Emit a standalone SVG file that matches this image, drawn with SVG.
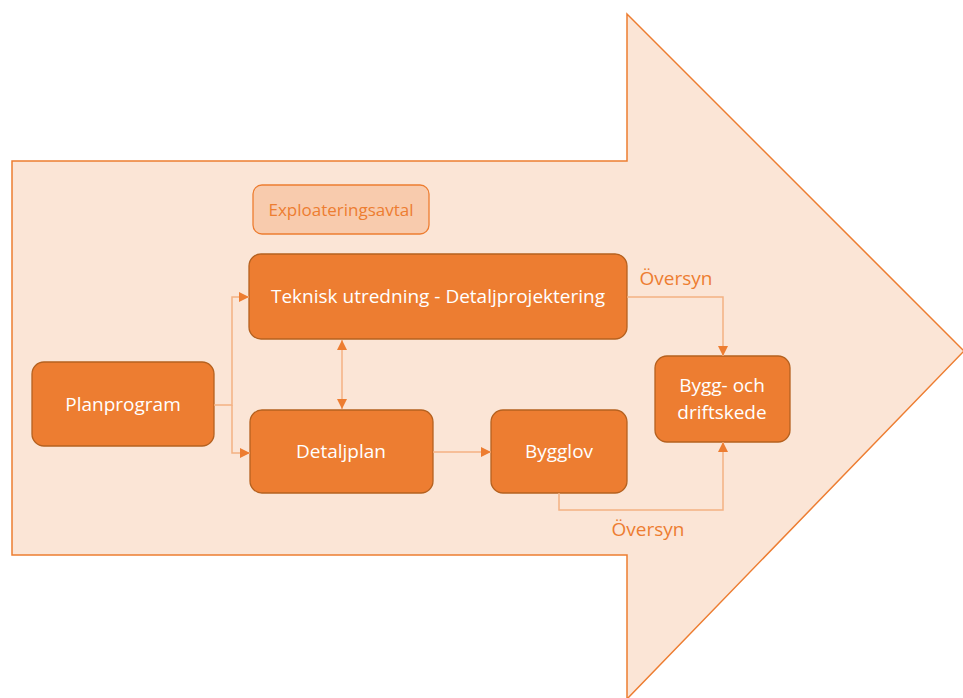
<svg xmlns="http://www.w3.org/2000/svg" width="963" height="698" viewBox="0 0 963 698">
<style>
.bg{fill:#fbe5d6;stroke:#ed7d31;stroke-width:1.5}
.box{fill:#ed7d31;stroke:#b5611f;stroke-width:1.3}
.lbl{font-family:"Open Sans","Liberation Sans",sans-serif;font-size:19px;fill:#ffffff;text-anchor:middle}
.olbl{font-family:"Open Sans","Liberation Sans",sans-serif;font-size:19px;fill:#ed7d31;text-anchor:middle}
.con{fill:none;stroke:#f4b183;stroke-width:1.5}
</style>
<defs>
<marker id="ah" viewBox="0 0 10 10" refX="10" refY="5" markerWidth="10" markerHeight="10" markerUnits="userSpaceOnUse" orient="auto-start-reverse">
<path d="M0,0 L10,5 L0,10 Z" fill="#ed7d31"/>
</marker>
</defs>
<polygon class="bg" points="12,161 627,161 627,14 964,351 627,699 627,555 12,555"/>
<g id="exploateringsavtal">
<rect x="253" y="185" width="176" height="49" rx="9" fill="#f8cbad" stroke="#ed7d31" stroke-width="1.3"/>
<text class="olbl" x="341" y="216" style="font-size:17px">Exploateringsavtal</text>
</g>
<g id="teknisk">
<rect class="box" x="249" y="254" width="378" height="85" rx="12"/>
<text class="lbl" x="438" y="303">Teknisk utredning - Detaljprojektering</text>
</g>
<g id="planprogram">
<rect class="box" x="32" y="362" width="182" height="84" rx="12"/>
<text class="lbl" x="123" y="411">Planprogram</text>
</g>
<g id="detaljplan">
<rect class="box" x="250" y="410" width="183" height="83" rx="12"/>
<text class="lbl" x="341" y="458">Detaljplan</text>
</g>
<g id="bygglov">
<rect class="box" x="491" y="410" width="136" height="83" rx="12"/>
<text class="lbl" x="559" y="458">Bygglov</text>
</g>
<g id="byggdrift">
<rect class="box" x="655" y="356" width="135" height="86" rx="12"/>
<text class="lbl" x="722" y="392">Bygg- och</text>
<text class="lbl" x="722" y="419">driftskede</text>
</g>
<g id="connectors">
<path class="con" d="M214,405 H232 V297 H249" marker-end="url(#ah)"/>
<path class="con" d="M232,405 V453 H250" marker-end="url(#ah)"/>
<path class="con" d="M342,340 V409" marker-start="url(#ah)" marker-end="url(#ah)"/>
<path class="con" d="M433,452 H491" marker-end="url(#ah)"/>
<path class="con" d="M627,297 H723 V356" marker-end="url(#ah)"/>
<path class="con" d="M559,493 V510 H723 V442" marker-end="url(#ah)"/>
<text class="olbl" x="676" y="285">Översyn</text>
<text class="olbl" x="648" y="536">Översyn</text>
</g>
</svg>
